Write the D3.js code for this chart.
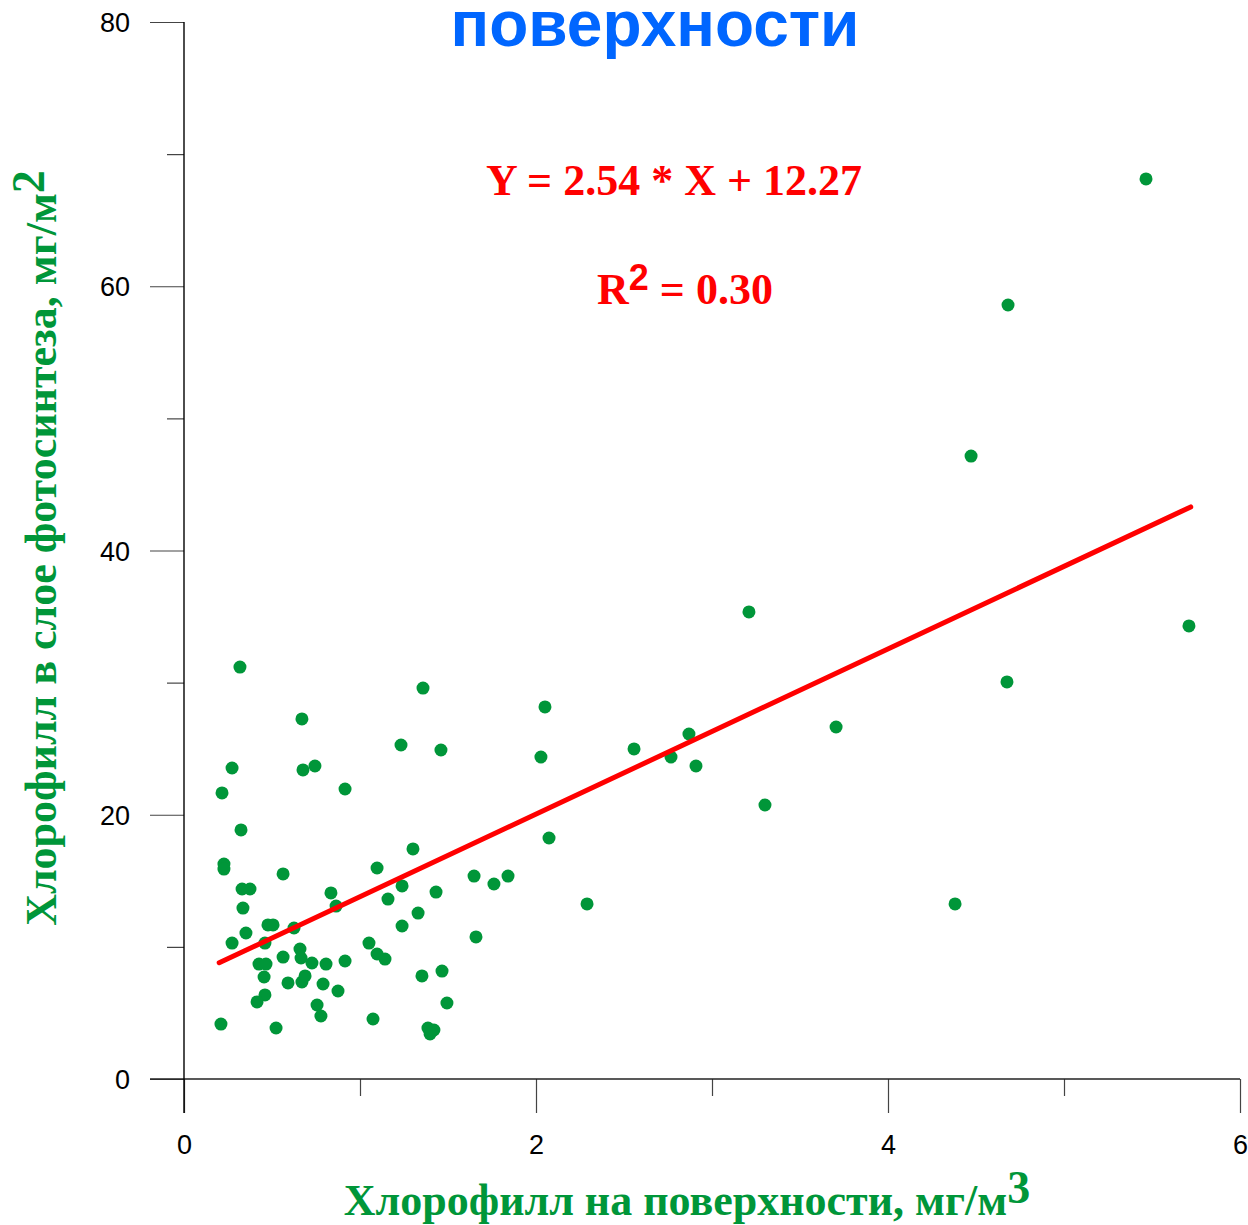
<!DOCTYPE html>
<html>
<head>
<meta charset="utf-8">
<script src="https://cdn.jsdelivr.net/npm/d3@7"></script>
<style>
  html, body { margin: 0; padding: 0; background: #fff; }
  svg { display: block; }
</style>
</head>
<body>
<svg id="chart" width="1248" height="1225"></svg>
<script>
// Surface chlorophyll (mg/m3) vs. chlorophyll in the photosynthetic layer (mg/m2)
const surfaceChl = [
  0.318, 1.358, 0.670, 1.233, 1.460, 0.273, 0.676, 0.744, 0.915, 0.216,
  0.324, 0.227, 0.227, 0.563, 1.097, 1.301, 0.330, 0.375, 0.835, 0.864,
  1.239, 1.432, 1.648, 1.159, 0.335, 0.352, 0.477, 0.506, 0.625, 0.273,
  0.460, 1.330, 1.239, 1.051, 1.659, 0.659, 0.426, 0.466, 0.455, 0.563,
  0.665, 0.670, 0.688, 0.727, 0.807, 0.915, 0.591, 0.790, 0.875, 0.460,
  0.415, 0.756, 0.778, 0.210, 0.523, 1.097, 1.142, 1.074, 1.352, 1.466,
  1.494, 1.386, 1.420, 1.398, 2.051, 2.028, 2.074, 1.761, 1.841, 2.290,
  2.557, 2.869, 2.767, 2.909, 3.210, 3.301, 3.705, 4.381, 4.472, 4.682,
  4.676, 5.466, 5.710
];
const layerChl = [
  31.18, 29.59, 27.25, 25.28, 24.90, 23.54, 23.39, 23.69, 21.95, 21.65,
  18.85, 16.27, 15.89, 15.52, 15.97, 17.41, 14.38, 14.38, 14.08, 13.09,
  14.61, 14.15, 15.36, 13.62, 12.94, 11.05, 11.66, 11.66, 11.43, 10.29,
  10.29, 12.56, 11.58, 10.29, 10.75, 9.84, 8.70, 8.70, 7.72, 9.23,
  9.16, 7.34, 7.80, 8.78, 8.70, 8.93, 7.27, 7.19, 6.66, 6.36,
  5.83, 5.60, 4.77, 4.16, 3.86, 9.46, 9.08, 4.54, 7.80, 8.17,
  5.75, 3.86, 3.71, 3.41, 28.16, 24.37, 18.24, 14.76, 15.36, 13.25,
  24.98, 26.11, 24.37, 23.69, 35.35, 20.74, 26.64, 13.25, 47.15, 58.58,
  30.05, 68.12, 34.29
];

// Trend line end points [x, y]
const trendX = [0.20, 5.72];
const trendY = [8.80, 43.30];

// Axis ticks
const xMajorTicks = [0, 2, 4, 6];
const xMinorTicks = [1, 3, 5];
const yMajorTicks = [0, 20, 40, 60, 80];
const yMinorTicks = [10, 30, 50, 70];

const titleText = "поверхности";
const equationText = "Y = 2.54 * X + 12.27";
const r2Text = " = 0.30";
const xTitle = "Хлорофилл на поверхности, мг/м";
const yTitle = "Хлорофилл в слое фотосинтеза, мг/м";

const svg = d3.select("#chart");
const x = d3.scaleLinear().domain([0, 6]).range([184, 1240]);
const y = d3.scaleLinear().domain([0, 80]).range([1079, 22]);

const tickFont = "'Liberation Sans', Arial, sans-serif";
const serif = "'Liberation Serif', 'Times New Roman', serif";
const green = "#009639";

// Axes
const xAxisG = svg.append("g").attr("transform", `translate(0,${y(0)})`)
  .call(d3.axisBottom(x).tickValues(xMajorTicks).tickSize(34).tickSizeOuter(0)
    .tickFormat(d3.format("d")).tickPadding(22));
const xMinorG = svg.append("g").attr("transform", `translate(0,${y(0)})`)
  .call(d3.axisBottom(x).tickValues(xMinorTicks).tickSize(17).tickFormat(""));
const yAxisG = svg.append("g").attr("transform", `translate(${x(0)},0)`)
  .call(d3.axisLeft(y).tickValues(yMajorTicks).tickSize(34).tickSizeOuter(0)
    .tickFormat(d3.format("d")).tickPadding(20));
const yMinorG = svg.append("g").attr("transform", `translate(${x(0)},0)`)
  .call(d3.axisLeft(y).tickValues(yMinorTicks).tickSize(17).tickFormat(""));

[xAxisG, xMinorG, yAxisG, yMinorG].forEach(g => {
  g.select(".domain").remove();
  g.selectAll(".tick line").attr("stroke", "#444").attr("stroke-width", 1.2);
  g.selectAll("text").attr("font-family", tickFont).attr("font-size", 27).attr("fill", "#000");
});
yAxisG.selectAll("text").attr("dy", "0.36em");

// Axis lines, each extended across the other's tick length
svg.append("line").attr("x1", x(0) - 34).attr("x2", x(6))
  .attr("y1", y(0)).attr("y2", y(0)).attr("stroke", "#222").attr("stroke-width", 1.4);
svg.append("line").attr("x1", x(0)).attr("x2", x(0))
  .attr("y1", y(80)).attr("y2", y(0) + 34).attr("stroke", "#000").attr("stroke-width", 1.4);

// Points
const pts = surfaceChl.map((v, i) => ({ x: v, y: layerChl[i] }));
svg.append("g").selectAll("circle").data(pts).join("circle")
  .attr("cx", d => x(d.x)).attr("cy", d => y(d.y))
  .attr("r", 6.5).attr("fill", green);

// Trend line
svg.append("path")
  .datum(trendX.map((v, i) => [v, trendY[i]]))
  .attr("d", d3.line().x(d => x(d[0])).y(d => y(d[1])))
  .attr("stroke", "#ff0000").attr("stroke-width", 5).attr("fill", "none")
  .attr("stroke-linecap", "round");

// Title
svg.append("text").attr("x", 655).attr("y", 46).attr("text-anchor", "middle")
  .attr("font-family", tickFont).attr("font-weight", "bold").attr("font-size", 64)
  .attr("fill", "#0066ff").text(titleText);

// Regression annotation
svg.append("text").attr("x", 674).attr("y", 195).attr("text-anchor", "middle")
  .attr("font-family", serif).attr("font-weight", "bold").attr("font-size", 44)
  .attr("fill", "#ff0000").text(equationText);
const r2 = svg.append("text").attr("x", 685).attr("y", 304).attr("text-anchor", "middle")
  .attr("font-family", serif).attr("font-weight", "bold").attr("font-size", 44)
  .attr("fill", "#ff0000");
r2.append("tspan").text("R");
r2.append("tspan").attr("font-family", tickFont).attr("font-size", 36).attr("dy", -14).text("2");
r2.append("tspan").attr("dy", 14).text(r2Text);

// Axis titles
const xt = svg.append("text").attr("x", 687).attr("y", 1215).attr("text-anchor", "middle")
  .attr("font-family", serif).attr("font-weight", "bold").attr("font-size", 44)
  .attr("fill", green);
xt.append("tspan").text(xTitle);
xt.append("tspan").attr("font-size", 46).attr("dy", -12).text("3");

const yt = svg.append("text").attr("transform", "translate(56,548) rotate(-90)")
  .attr("text-anchor", "middle")
  .attr("font-family", serif).attr("font-weight", "bold").attr("font-size", 44)
  .attr("fill", green);
yt.append("tspan").text(yTitle);
yt.append("tspan").attr("font-size", 46).attr("dy", -12).text("2");
</script>
</body>
</html>
